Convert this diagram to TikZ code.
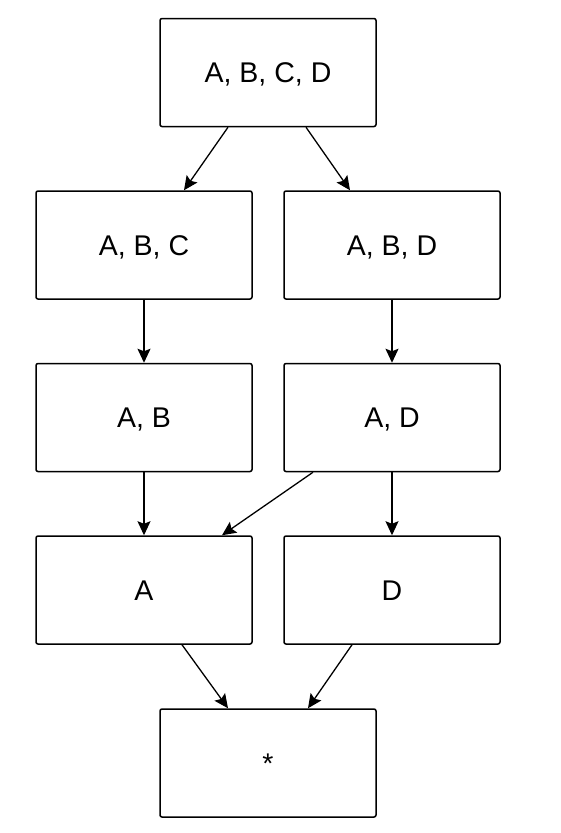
\documentclass[tikz,border=0pt]{standalone}
\usepackage{fontspec}
\setmainfont{Liberation Sans}
\usetikzlibrary{arrows.meta}
\begin{document}
\begin{tikzpicture}[x=1pt,y=-1pt,
  box/.style={draw=black,line width=1.5pt,rounded corners=2pt,minimum width=216pt,minimum height=108pt,inner sep=0pt,text height=20.5pt,text depth=0pt,font=\fontsize{28.5}{32}\selectfont},
  conn/.style={line width=1.3pt,-{Stealth[length=14pt,width=13pt,inset=2.5pt]}}]
\useasboundingbox (0,0) rectangle (561,833);
\node[box] (abcd) at (268,72.5) {A, B, C, D};
\node[box] (abc) at (144,245) {A, B, C};
\node[box] (abd) at (392,245) {A, B, D};
\node[box] (ab) at (144,417.5) {A, B};
\node[box] (ad) at (392,417.5) {A, D};
\node[box] (a) at (144,590) {A};
\node[box] (d) at (392,590) {D};
\node[box] (star) at (268,763) {*};
\draw[conn] (abcd.south -| 228,0) -- (abc.north -| 184,0);
\draw[conn] (abcd.south -| 306,0) -- (abd.north -| 350,0);
\draw[conn] (abc) -- (ab);
\draw[conn] (abd) -- (ad);
\draw[conn] (ab) -- (a);
\draw[conn] (ad) -- (d);
\draw[conn] (ad.south -| 313,0) -- (a.north -| 222,0);
\draw[conn] (a.south -| 182,0) -- (star.north -| 228,0);
\draw[conn] (d.south -| 352,0) -- (star.north -| 308,0);
\end{tikzpicture}
\end{document}
